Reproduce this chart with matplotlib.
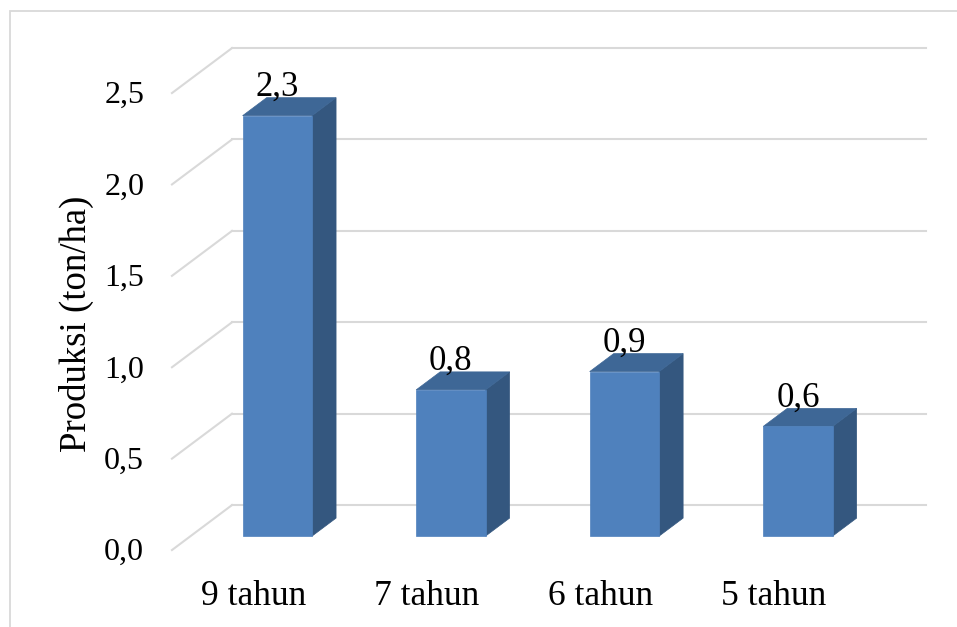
import matplotlib
matplotlib.use('Agg')
import matplotlib.pyplot as plt
from matplotlib.patches import Polygon, Rectangle

categories = ['9 tahun', '7 tahun', '6 tahun', '5 tahun']
produksi = [2.3, 0.8, 0.9, 0.6]
yticks = [0.0, 0.5, 1.0, 1.5, 2.0, 2.5]
ytick_labels = ['0,0', '0,5', '1,0', '1,5', '2,0', '2,5']

# oblique "3d" projection: a depth of 1 shifts points by (DX, DY) in data units
DX = 0.346
DY = 0.246
BAR_W = 0.40
D_FRONT, D_BACK = 0.31, 0.71

FRONT = '#4F81BD'
SIDE = '#34577F'
TOP = '#3E6796'
GRID = '#D9D9D9'

plt.rcParams['font.family'] = ['Liberation Serif', 'DejaVu Serif']

fig = plt.figure(figsize=(9.57, 6.27), dpi=100)
ax = fig.add_axes([0, 0, 1, 1])
ax.set_xlim(-0.991, 4.524)
ax.set_ylim(-0.421, 3.009)
ax.axis('off')

n = len(categories)

# walls: diagonal on the side wall, horizontal on the back wall
for v, lab in zip(yticks, ytick_labels):
    ax.plot([0, DX], [v, v + DY], color=GRID, lw=1.5, zorder=1)
    ax.plot([DX, n + DX], [v + DY, v + DY], color=GRID, lw=1.5, zorder=1)
    ax.text(-0.16, v - 0.056, lab, ha='right', va='baseline', fontsize=23)

def shifted(x, y, d):
    return (x + d * DX, y + d * DY)

for i, (cat, val) in enumerate(zip(categories, produksi)):
    x0 = i + 0.5 - BAR_W / 2
    x1 = i + 0.5 + BAR_W / 2
    front = [shifted(x0, 0, D_FRONT), shifted(x1, 0, D_FRONT),
             shifted(x1, val, D_FRONT), shifted(x0, val, D_FRONT)]
    side = [shifted(x1, 0, D_FRONT), shifted(x1, 0, D_BACK),
            shifted(x1, val, D_BACK), shifted(x1, val, D_FRONT)]
    top = [shifted(x0, val, D_FRONT), shifted(x1, val, D_FRONT),
           shifted(x1, val, D_BACK), shifted(x0, val, D_BACK)]
    ax.add_patch(Polygon(side, closed=True, fc=SIDE, ec=SIDE, lw=0.5, zorder=3))
    ax.add_patch(Polygon(top, closed=True, fc=TOP, ec=TOP, lw=0.5, zorder=3))
    ax.add_patch(Polygon(front, closed=True, fc=FRONT, ec=FRONT, lw=0.5, zorder=3))

    # value label above the bar, centred on the front face
    cx, _ = shifted(i + 0.5, val, D_FRONT)
    ax.text(cx, val + D_BACK * DY + 0.012, f'{val:.1f}'.replace('.', ','),
            ha='center', va='baseline', fontsize=25, zorder=4)

    ax.text(i + 0.47, -0.303, cat, ha='center', va='baseline', fontsize=25.5)

ax.text(-0.549, 1.24, 'Produksi (ton/ha)', rotation=90, ha='center', va='center', fontsize=26.5)

# chart border
fig.patches.append(Rectangle((10 / 957, -0.1), 1.2, 0.1 + 1 - 11 / 627, transform=fig.transFigure,
                             fill=False, ec=GRID, lw=1.3))

fig.savefig('out.png', dpi=100)
